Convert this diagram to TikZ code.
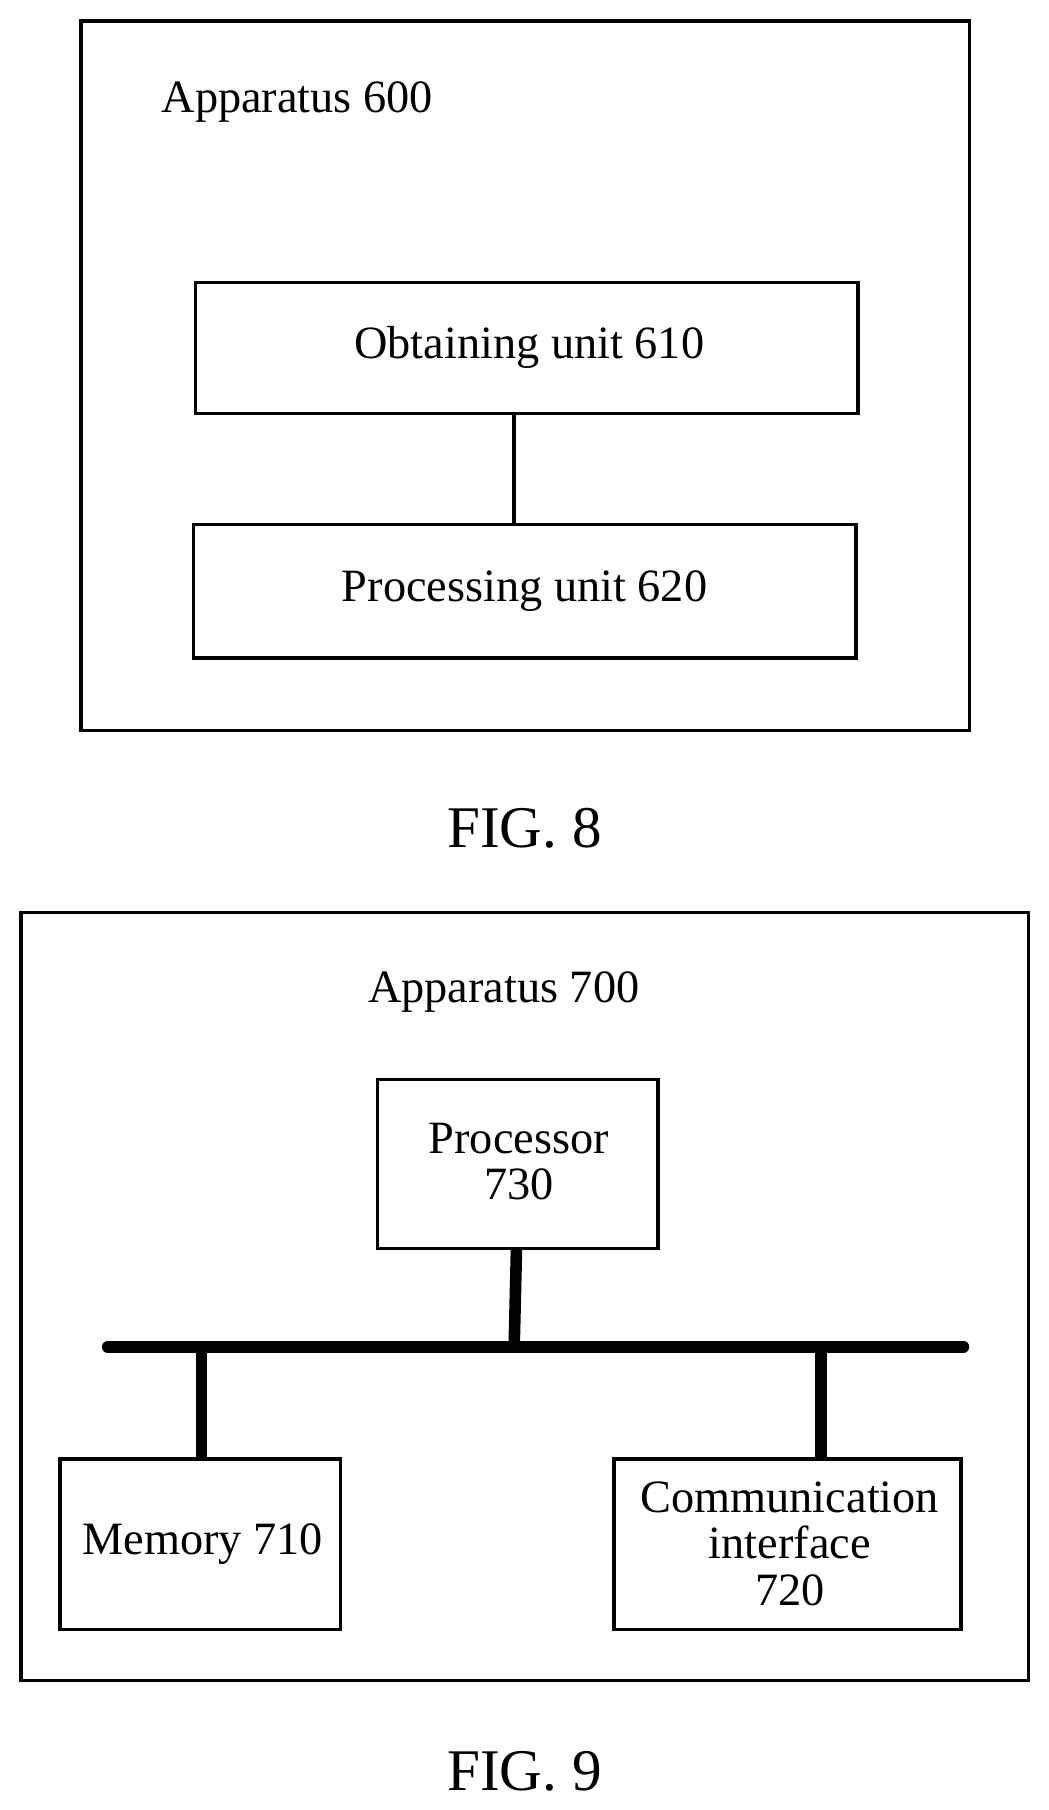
\documentclass[tikz,border=0pt]{standalone}
\usepackage{fontspec}
\setmainfont{Liberation Serif}
\begin{document}
\begin{tikzpicture}[x=1pt,y=-1pt,
  box/.style={draw,line width=3pt},
  lbl/.style={font=\fontsize{40}{40}\selectfont,align=center},
  fig/.style={font=\fontsize{51}{56}\selectfont},
  bus/.style={line width=10pt}]
\useasboundingbox (0,0) rectangle (905,1563);
% FIG 8
\draw[box] (70,18) rectangle (837,631);
\node[lbl,anchor=west] (a600) at (136,88) {Apparatus 600};
\draw[box] (169,244) rectangle (741,357);
\node[lbl] (obt) at (457,300) {Obtaining unit 610};
\draw[box] (167,453) rectangle (739,568);
\node[lbl] (proc) at (453,510) {Processing unit 620};
\coordinate (o1) at (444,357); \coordinate (o2) at (444,453);
\draw[line width=3pt] (o1) -- (o2);
\node[fig] (f8) at (453,715) {FIG. 8};
% FIG 9
\draw[box] (18,788) rectangle (888,1451);
\node[lbl] (a700) at (435,857) {Apparatus 700};
\draw[box] (326,932) rectangle (568,1078);
\node[lbl] (p730) at (448,1003) {Processor\\730};
\draw[box] (52,1260) rectangle (294,1407);
\node[lbl] (mem) at (175,1333) {Memory 710};
\draw[box] (530,1260) rectangle (830,1407);
\node[lbl] (com) at (682,1333) {Communication\\interface\\720};
\coordinate (bl) at (93,1163); \coordinate (br) at (832,1163);
\draw[bus,line cap=round] (bl) -- (br);
\coordinate (ps) at (446,1078); \coordinate (pb) at (444,1163);
\draw[bus] (ps) -- (pb);
\coordinate (ms) at (174,1163); \coordinate (mb) at (174,1260);
\draw[bus] (ms) -- (mb);
\coordinate (cs) at (709,1163); \coordinate (cb) at (709,1260);
\draw[bus] (cs) -- (cb);
\node[fig] (f9) at (453,1530) {FIG. 9};
\end{tikzpicture}
\end{document}
